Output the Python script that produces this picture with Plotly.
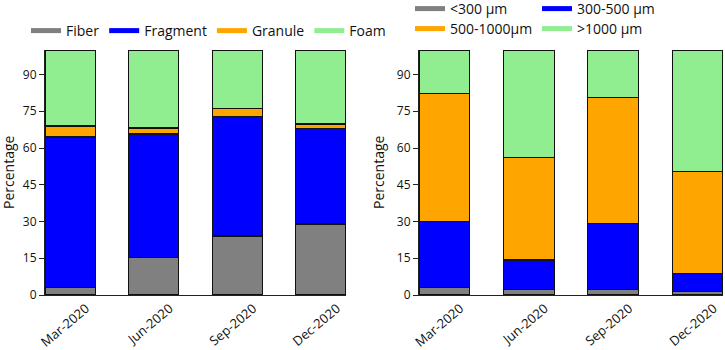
import plotly.graph_objects as go

months = ["Mar-2020", "Jun-2020", "Sep-2020", "Dec-2020"]

# Left panel: shape composition (%)
shape_names = ["Fiber", "Fragment", "Granule", "Foam"]
fiber = [3.0, 15.3, 24.1, 29.0]
fragment = [61.5, 50.4, 48.6, 39.0]
granule = [4.5, 2.5, 3.4, 1.8]
foam = [31.0, 31.8, 23.9, 30.2]

# Right panel: size composition (%)
size_names = ["<300 µm", "300-500 µm", "500-1000µm", ">1000 µm"]
s_lt300 = [3.2, 2.2, 2.2, 1.4]
s_300_500 = [26.8, 12.1, 26.9, 7.5]
s_500_1000 = [52.1, 41.7, 51.4, 41.5]
s_gt1000 = [17.9, 44.0, 19.5, 49.6]

y_ticks = [0, 15, 30, 45, 60, 75, 90]
colors = ["#808080", "#0000FF", "#FFA500", "#90EE90"]

FONT = "Open Sans"
W, H = 725, 350

fig = go.Figure()

left_series = [fiber, fragment, granule, foam]
right_series = [s_lt300, s_300_500, s_500_1000, s_gt1000]

for name, vals, col in zip(shape_names, left_series, colors):
    fig.add_trace(go.Bar(x=months, y=vals, name=name, marker=dict(color=col, line=dict(color="#111111", width=1.2)),
                         xaxis="x", yaxis="y", showlegend=False))
for name, vals, col in zip(size_names, right_series, colors):
    fig.add_trace(go.Bar(x=months, y=vals, name=name, marker=dict(color=col, line=dict(color="#111111", width=1.2)),
                         xaxis="x2", yaxis="y2", showlegend=False))

# legend swatches
for name, col in zip(shape_names, colors):
    fig.add_trace(go.Scatter(x=[None], y=[None], mode="lines", name=name, line=dict(color=col, width=5),
                             xaxis="x", yaxis="y", legend="legend"))
for i, (name, col) in enumerate(zip(size_names, colors)):
    fig.add_trace(go.Scatter(x=[None], y=[None], mode="lines", name=name, line=dict(color=col, width=5),
                             xaxis="x2", yaxis="y2", legend="legend2" if i < 2 else "legend3"))

xcommon = dict(type="category", range=[-0.3, 3.3], showline=True, linecolor="#222", linewidth=1,
               ticks="", tickangle=-40, ticklabelshift=16, automargin=False, showgrid=False,
               tickfont=dict(family=FONT, size=13, color="#111"))
ycommon = dict(range=[0, 100], tickvals=y_ticks, showline=True, linecolor="#222", linewidth=1,
               ticks="outside", ticklen=5, tickcolor="#222", automargin=False, showgrid=False, zeroline=False,
               tickfont=dict(family=FONT, size=12, color="#111"))

legcommon = dict(orientation="h", font=dict(family=FONT, size=14, color="#111"), bgcolor="rgba(0,0,0,0)",
                 traceorder="normal", xanchor="left", yanchor="middle", itemclick=False)

fig.update_layout(
    width=W, height=H,
    margin=dict(l=0, r=0, t=0, b=0, autoexpand=False),
    paper_bgcolor="white", plot_bgcolor="white",
    barmode="stack", bargap=0.4,
    font=dict(family=FONT, color="#111"),
    xaxis=dict(domain=[45 / W, 346 / W], anchor="y", **xcommon),
    yaxis=dict(domain=[(H - 295) / H, (H - 50) / H], anchor="x", **ycommon),
    xaxis2=dict(domain=[419 / W, 723 / W], anchor="y2", **xcommon),
    yaxis2=dict(domain=[(H - 295) / H, (H - 50) / H], anchor="x2", **ycommon),
    legend=dict(x=26 / W, y=1 - 31 / H, **legcommon),
    legend2=dict(x=410 / W, y=1 - 9 / H, entrywidth=82, **legcommon),
    legend3=dict(x=410 / W, y=1 - 29 / H, entrywidth=82, **legcommon),
    annotations=[
        dict(text="Percentage", x=8 / W, y=1 - 172 / H, xref="paper", yref="paper", textangle=-90,
             showarrow=False, font=dict(family=FONT, size=14, color="#111"), xanchor="center", yanchor="middle"),
        dict(text="Percentage", x=378 / W, y=1 - 172 / H, xref="paper", yref="paper", textangle=-90,
             showarrow=False, font=dict(family=FONT, size=14, color="#111"), xanchor="center", yanchor="middle"),
    ],
)

fig.write_html("out.html", config={"displayModeBar": False},
               post_script="document.body.style.margin='0';document.body.style.overflow='hidden';")
